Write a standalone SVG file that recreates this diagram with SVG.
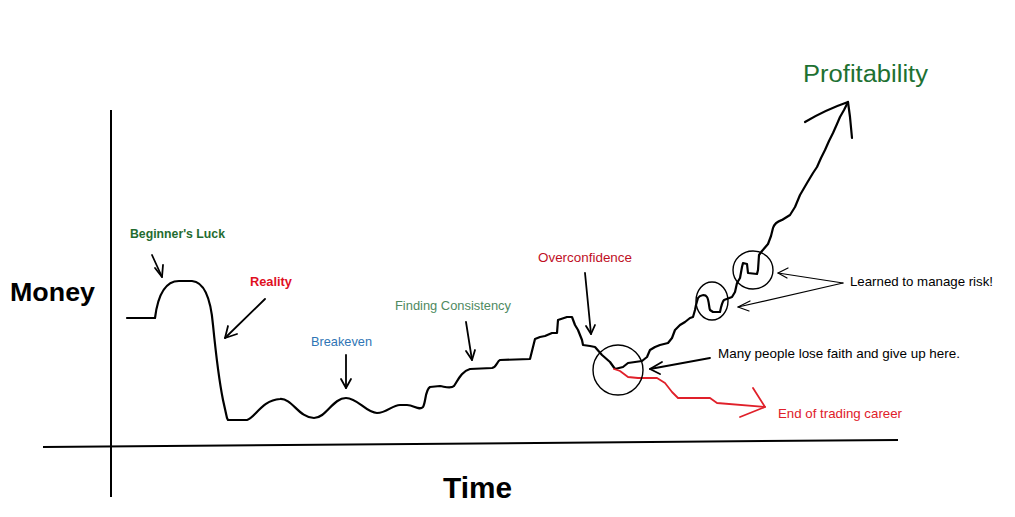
<svg xmlns="http://www.w3.org/2000/svg" width="1015" height="517" viewBox="0 0 1015 517">
<style>
  .lbl { font-family: "Liberation Sans", Arial, sans-serif; font-size: 13px; }
  .b { font-weight: bold; }
  .axis { stroke: #000; stroke-width: 2; fill: none; }
  .curve { stroke: #000; stroke-width: 2.2; fill: none; stroke-linejoin: round; stroke-linecap: round; }
  .red { stroke: #e0202a; stroke-width: 1.8; fill: none; stroke-linejoin: round; stroke-linecap: round; }
  .arr { stroke: #000; stroke-width: 1.8; fill: none; stroke-linecap: round; stroke-linejoin: round; }
  .thin { stroke: #000; stroke-width: 1.2; fill: none; stroke-linecap: round; stroke-linejoin: round; }
  .ring { stroke: #000; stroke-width: 1.4; fill: none; }
</style>
<rect width="1015" height="517" fill="#fff"/>

<g id="axes">
  <line class="axis" x1="111" y1="110" x2="111" y2="497"/>
  <line class="axis" x1="43" y1="447" x2="898" y2="440"/>
</g>

<g id="axis-labels">
  <text x="10" y="301" style="font-family:'Liberation Sans',Arial,sans-serif;font-size:25px;font-weight:bold" textLength="85" lengthAdjust="spacingAndGlyphs">Money</text>
  <text x="443" y="498" style="font-family:'Liberation Sans',Arial,sans-serif;font-size:29px;font-weight:bold" textLength="69" lengthAdjust="spacingAndGlyphs">Time</text>
</g>

<g id="equity-curve">
  <path class="curve" d="M127,318 L155,318 C157,302 162,281 179,281 L192,281 C205,282 211,302 213,325 C215,345 219,380 223,400 L227,418 L228,420 L247,420 C255,418 262,400 280,399 C292,398 299,418 314,418 C326,418 333,398 346,398 C358,398 366,413 377,413 C387,413 392,405 400,405 L407,405 C414,405 419,411 423,407 C426,402 425,390 430,387 L440,386 C446,387 451,389 454,386 C458,380 462,371 470,369 L492,368 C497,367 497,361 500,360 L530,359 L535,339 L540,337 L545,336 L552,333 L557,333 L558,320 L567,317 L572,317 L575,325 L578,330 L582,340 L583,345 L590,346 L595,347 L602,355 L610,362 L615,369 L623,367 L628,363 L635,362 L642,361 L647,357 L650,350 L655,347 L660,345 L668,343 L672,338 L675,330 L680,325 L685,322 L690,318 L693,317 L695,310 L696,305 L698,298 C700,295 705,294 707,297 C709,300 709,308 710,310 L713,312 L720,312 C721,307 722,302 724,300 L732,297 L735,292 L737,283 L740,278 L742,267 L743,263 L747,264 L748,273 L757,274 L758,270 L759,255 L762,251 L768,244 L771,236 L773,228 C775,222 779,221 782,220 L790,215 L795,207 L800,195 L807,183 L813,173 L817,167 L821,158 L825,150 L829,141 L833,133 L837,124 L840,117 L844,110 L848,102"/>
  <path class="curve" d="M805,122 C815,116 825,110 848,102 L850,117 L852,138"/>
</g>

<g id="failure-branch">
  <polyline class="red" points="614,369 620,371 628,377 638,378 657,378 665,383 672,392 678,398 697,398 710,398 717,403 765,407"/>
  <polyline class="red" points="753,388 765,407 740,417"/>
</g>

<g id="circles">
  <circle class="ring" cx="618" cy="370" r="25"/>
  <ellipse class="ring" cx="712" cy="301" rx="16" ry="19"/>
  <ellipse class="ring" cx="753" cy="270" rx="20" ry="19"/>
</g>

<g id="connectors">
  <polyline class="arr" points="152,255 162,277"/>
  <polyline class="arr" points="155,268 162,277 163,265"/>
  <polyline class="arr" points="265,299 225,338"/>
  <polyline class="arr" points="228,326 225,338 237,334"/>
  <polyline class="arr" points="346,355 346,388"/>
  <polyline class="arr" points="341,379 346,388 351,379"/>
  <polyline class="arr" points="466,322 472,360"/>
  <polyline class="arr" points="466,351 472,360 475,350"/>
  <polyline class="arr" points="585,273 591,334"/>
  <polyline class="arr" points="586,326 591,334 595,325"/>
  <polyline class="arr" points="710,358 650,369"/>
  <polyline class="arr" points="662,362 650,369 660,374"/>
  <polyline class="thin" points="843,283 778,273"/>
  <polyline class="thin" points="788,268 778,273 787,278"/>
  <polyline class="thin" points="843,283 738,307"/>
  <polyline class="thin" points="750,301 738,307 749,311"/>
</g>

<g id="node-beginners-luck"><text class="lbl b" x="130" y="238" fill="#1f6b2f" textLength="95" lengthAdjust="spacingAndGlyphs">Beginner's Luck</text></g>
<g id="node-reality"><text class="lbl b" x="250" y="286" fill="#e0101f" textLength="42" lengthAdjust="spacingAndGlyphs">Reality</text></g>
<g id="node-breakeven"><text class="lbl" x="311" y="346" fill="#2f75b5" textLength="61" lengthAdjust="spacingAndGlyphs">Breakeven</text></g>
<g id="node-finding-consistency"><text class="lbl" x="395" y="310" fill="#4f8a5f" textLength="116" lengthAdjust="spacingAndGlyphs">Finding Consistency</text></g>
<g id="node-overconfidence"><text class="lbl" x="538" y="262" fill="#c00f1f" textLength="94" lengthAdjust="spacingAndGlyphs">Overconfidence</text></g>
<g id="node-learned"><text class="lbl" x="850" y="286" fill="#000" textLength="143" lengthAdjust="spacingAndGlyphs">Learned to manage risk!</text></g>
<g id="node-many-people"><text class="lbl" x="718" y="358" fill="#000" textLength="242" lengthAdjust="spacingAndGlyphs">Many people lose faith and give up here.</text></g>
<g id="node-end-career"><text class="lbl" x="778" y="418" fill="#e0202a" textLength="124" lengthAdjust="spacingAndGlyphs">End of trading career</text></g>
<g id="node-profitability"><text x="803" y="82" style="font-family:'Liberation Sans',Arial,sans-serif;font-size:23px" fill="#1e7132" textLength="125" lengthAdjust="spacingAndGlyphs">Profitability</text></g>
</svg>
